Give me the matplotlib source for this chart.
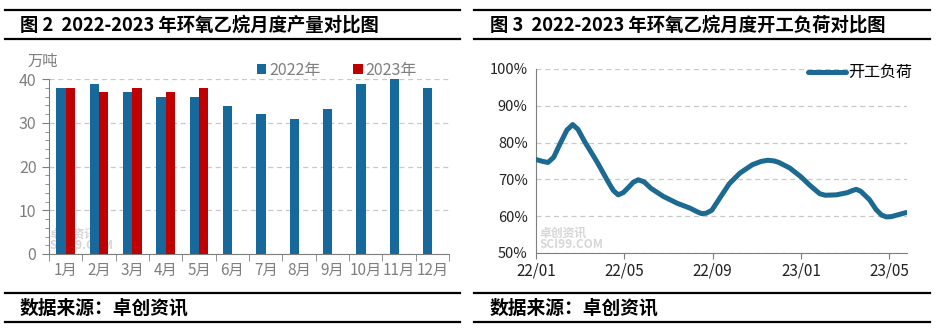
import matplotlib
matplotlib.use('Agg')
import matplotlib.pyplot as plt
from matplotlib.lines import Line2D
from matplotlib.ticker import MultipleLocator, FuncFormatter
import numpy as np

plt.rcParams['font.family'] = ['Noto Sans CJK SC', 'DejaVu Sans']

# ---- data: monthly EO output (10k tons) ----
months = ['1月', '2月', '3月', '4月', '5月', '6月', '7月', '8月', '9月', '10月', '11月', '12月']
output_2022 = [38.0, 38.9, 37.1, 36.0, 36.0, 33.9, 32.1, 30.9, 33.2, 38.9, 40.0, 38.0]
output_2023 = [38.0, 37.1, 38.0, 37.1, 38.0]

# ---- data: operating rate (months after 2022/01, %) ----
rate_month = [0, 0.3, 0.54, 0.8, 1.1, 1.4, 1.66, 1.9, 2.2, 2.75, 3.3, 3.5, 3.72, 3.95, 4.2,
              4.4, 4.63, 4.9, 5.2, 5.76, 6.4, 6.97, 7.3, 7.5, 7.7, 7.96, 8.33, 8.75, 9.23,
              9.8, 10.2, 10.5, 10.8, 11.0, 11.49, 12.0, 12.4, 12.85, 13.1, 13.6, 14.1,
              14.3, 14.5, 14.7, 15.1, 15.4, 15.65, 15.87, 16.1, 16.4, 16.77]
rate_value = [75.4, 74.9, 74.6, 76.0, 79.8, 83.4, 84.9, 83.6, 80.3, 74.9, 69.0, 67.0, 65.8,
              66.4, 67.9, 69.2, 69.9, 69.3, 67.6, 65.4, 63.5, 62.2, 61.2, 60.7, 60.8, 61.6,
              65.0, 68.8, 71.7, 74.0, 74.9, 75.2, 75.0, 74.6, 73.1, 70.7, 68.4, 66.1, 65.7,
              65.8, 66.4, 66.9, 67.3, 66.8, 64.5, 61.8, 60.3, 59.8, 59.9, 60.4, 61.0]
rate_ticks = [0, 4, 8, 12, 16]
rate_tick_labels = ['22/01', '22/05', '22/09', '23/01', '23/05']

BLUE = '#16699a'
RED = '#c00000'
LINE = '#1c6a92'
GREY = '#7f7f7f'
GRID = '#c9c9c9'
MARK = '#d6d6d6'

W, H = 942, 329
fig = plt.figure(figsize=(W / 100, H / 100), dpi=100)


def frac(x0, y0, x1, y1):
    # pixel box (top-left origin) -> figure fraction
    return [x0 / W, 1 - y1 / H, (x1 - x0) / W, (y1 - y0) / H]


def hline(x0, x1, y, lw=1.6):
    fig.add_artist(Line2D([x0 / W, x1 / W], [1 - y / H, 1 - y / H], color='black', lw=lw))


# frame lines, titles and footers
for (x0, x1) in [(5, 460), (474, 930)]:
    hline(x0, x1, 10)
    hline(x0, x1, 39)
    hline(x0, x1, 293)
    hline(x0, x1, 322)

fig.text(20 / W, 1 - 25 / H, '图 2  2022-2023 年环氧乙烷月度产量对比图', fontsize=13.2,
         fontweight='bold', va='center', ha='left')
fig.text(490 / W, 1 - 25 / H, '图 3  2022-2023 年环氧乙烷月度开工负荷对比图', fontsize=13.2,
         fontweight='bold', va='center', ha='left')
fig.text(20 / W, 1 - 308 / H, '数据来源：卓创资讯', fontsize=13.5, fontweight='bold',
         va='center', ha='left')
fig.text(490 / W, 1 - 308 / H, '数据来源：卓创资讯', fontsize=13.5, fontweight='bold',
         va='center', ha='left')

# ---------------- left: bar chart ----------------
ax1 = fig.add_axes(frac(49, 79, 449, 254))
x = np.arange(len(months))
bw = 0.28
ax1.bar(x[:len(output_2022)] - bw / 2, output_2022, width=bw, color=BLUE, label='2022年', zorder=3)
ax1.bar(x[:len(output_2023)] + bw / 2, output_2023, width=bw, color=RED, label='2023年', zorder=3)
ax1.set_xlim(-0.5, len(months) - 0.5)
ax1.set_ylim(0, 40)
ax1.yaxis.set_major_locator(MultipleLocator(10))
ax1.yaxis.set_minor_locator(MultipleLocator(2))
ax1.set_xticks(x)
ax1.set_xticklabels(months)
ax1.set_xticks(np.arange(-0.5, len(months)), minor=True)
ax1.tick_params(axis='x', which='major', length=0, labelsize=11, labelcolor=GREY, pad=6)
ax1.tick_params(axis='x', which='minor', length=5, color=GREY, direction='out')
ax1.tick_params(axis='y', which='major', length=5, color=GREY, labelsize=11.5, labelcolor=GREY,
                direction='out', pad=4)
ax1.tick_params(axis='y', which='minor', length=3, color=GREY, direction='out')
ax1.yaxis.grid(True, which='major', linestyle=(0, (4, 3)), color=GRID, lw=0.9, zorder=0)
for s in ['top', 'right']:
    ax1.spines[s].set_visible(False)
for s in ['left', 'bottom']:
    ax1.spines[s].set_color(GREY)
ax1.text(-0.055, 1.1, '万吨', transform=ax1.transAxes, fontsize=11, color=GREY,
         ha='left', va='center')
leg1 = ax1.legend(loc='center', bbox_to_anchor=(0.72, 1.05), ncol=2, frameon=False,
                  fontsize=11.5, handlelength=0.6, handleheight=0.6, handletextpad=0.2,
                  columnspacing=2.0, borderaxespad=0)
for t in leg1.get_texts():
    t.set_color(GREY)
ax1.text(0.0, 0.01, '卓创资讯\nSCI99.COM', transform=ax1.transAxes, fontsize=8.5,
         color=MARK, ha='left', va='bottom', fontweight='bold', linespacing=0.9, zorder=1)

# ---------------- right: line chart ----------------
ax2 = fig.add_axes(frac(536, 69, 907, 253))
ax2.plot(rate_month, rate_value, color=LINE, lw=3.6, label='开工负荷',
         solid_joinstyle='round', solid_capstyle='round', zorder=3)
ax2.set_xlim(0, 16.8)
ax2.set_ylim(50, 100)
ax2.yaxis.set_major_locator(MultipleLocator(10))
ax2.yaxis.set_major_formatter(FuncFormatter(lambda v, p: f'{v:.0f}%'))
ax2.set_xticks(rate_ticks)
ax2.set_xticklabels(rate_tick_labels)
ax2.tick_params(axis='x', length=4, color=GREY, labelsize=11, labelcolor='#222222', pad=3)
ax2.tick_params(axis='y', length=0, labelsize=10.5, labelcolor='#222222', pad=6)
ax2.yaxis.grid(True, linestyle=(0, (4, 3)), color=GRID, lw=0.9, zorder=0)
for s in ['top', 'right']:
    ax2.spines[s].set_visible(False)
for s in ['left', 'bottom']:
    ax2.spines[s].set_color(GREY)
ax2.legend(loc='center right', bbox_to_anchor=(1.03, 0.98), frameon=False, fontsize=11.5,
           handlelength=2.4, handletextpad=0.1, borderaxespad=0)
ax2.text(0.01, 0.01, '卓创资讯\nSCI99.COM', transform=ax2.transAxes, fontsize=8.5,
         color=MARK, ha='left', va='bottom', fontweight='bold', linespacing=0.9, zorder=1)

fig.savefig('out.png', dpi=100)
